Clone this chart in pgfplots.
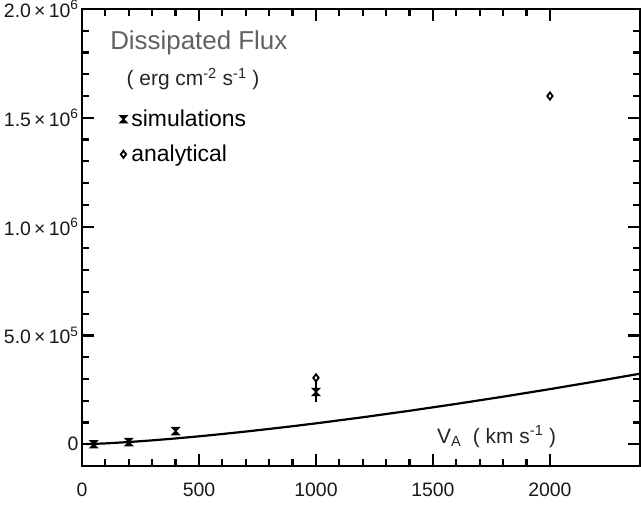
\documentclass[border=0pt]{standalone}
\usepackage{pgfplots}
\pgfplotsset{compat=1.18}
\usepackage{fontspec}
\setmainfont{Liberation Sans}
\pgfdeclareplotmark{hourglass}{%
  \pgfpathmoveto{\pgfqpoint{-\pgfplotmarksize}{\pgfplotmarksize}}%
  \pgfpathlineto{\pgfqpoint{\pgfplotmarksize}{\pgfplotmarksize}}%
  \pgfpathlineto{\pgfqpoint{-\pgfplotmarksize}{-\pgfplotmarksize}}%
  \pgfpathlineto{\pgfqpoint{\pgfplotmarksize}{-\pgfplotmarksize}}%
  \pgfpathclose
  \pgfusepathqfillstroke
}
\begin{document}
\begin{tikzpicture}
\useasboundingbox (-82bp,-40bp) rectangle (559bp,466bp);
\begin{axis}[
  scale only axis,
  width=558bp, height=457bp,
  xmin=0, xmax=2385,
  ymin=-1.0e5, ymax=2.0e6,
  axis line style={line width=2.4bp},
  every tick/.style={line width=2.2bp, black},
  major tick length=12bp,
  minor tick length=7bp,
  tick align=inside,
  xtick={0,500,1000,1500,2000},
  xticklabels={0,500,1000,1500,2000},
  ytick={0,5e5,1e6,1.5e6,2e6},
  yticklabels={0,5.0\,×\,10\textsuperscript{5},1.0\,×\,10\textsuperscript{6},1.5\,×\,10\textsuperscript{6},2.0\,×\,10\textsuperscript{6}},
  minor x tick num=4,
  minor y tick num=4,
  scaled ticks=false,
  ticklabel style={font=\fontsize{19.5}{22}\selectfont, text=black!90},
  xticklabel style={yshift=-13bp},
  /pgf/number format/assume math mode=true,
  legend style={at={(axis cs:155,1.545e6)}, anchor=north west, draw=none, fill=none,
    font=\fontsize{23}{27}\selectfont, row sep=13bp, inner sep=0pt},
  legend cell align=left,
]
\addplot[black, line width=2.2bp, forget plot] coordinates {
(20,700) (100,3820) (200,10100) (300,17800) (400,26600) (500,36400) (600,47000)
(700,58300) (800,70300) (900,82800) (1000,96000) (1200,123900) (1400,153800)
(1600,185400) (1800,218600) (2000,253300) (2200,289500) (2400,327000)};
\addplot[only marks, black, mark=hourglass, mark size=3.6bp, line width=1.2bp,
  error bars/.cd, y dir=both, y explicit, error bar style={line width=1.8bp}, error mark=none,
  /pgfplots/.cd,
  legend image code/.code={\path[draw=none,fill=none] (-5bp,-3bp) rectangle (6bp,3bp);
    \draw[mark=hourglass, mark size=3.6bp, line width=1.2bp, black] plot coordinates {(0bp,0bp)};}]
  coordinates {
  (50,0) +- (0,4000)
  (200,10000) +- (0,6000)
  (400,60000) +- (0,12000)
  (1000,240000) +- (0,45000)
};
\addlegendentry{simulations}
\addplot[only marks, black, mark=diamond, mark size=3.6bp, line width=1.8bp,
  legend image code/.code={\path[draw=none,fill=none] (-5bp,-3bp) rectangle (6bp,3bp);
    \draw[mark=diamond, mark size=3.6bp, line width=1.8bp, black] plot coordinates {(0bp,0bp)};}]
  coordinates {(1000,305000) (2000,1600000)};
\addlegendentry{analytical}
\node[anchor=base west, text=black!62, font=\fontsize{26}{30}\selectfont, inner sep=0pt]
  at (axis cs:120,1.812e6) {Dissipated Flux};
\node[anchor=base west, text=black!85, font=\fontsize{21}{25}\selectfont, inner sep=0pt]
  at (axis cs:190,1.647e6) {( erg cm\textsuperscript{-2} s\textsuperscript{-1} )};
\node[anchor=base west, text=black!85, font=\fontsize{21}{25}\selectfont, inner sep=0pt]
  at (axis cs:1517,5000) {V\textsubscript{A}\ \ ( km s\textsuperscript{-1} )};
\end{axis}
\end{tikzpicture}
\end{document}
